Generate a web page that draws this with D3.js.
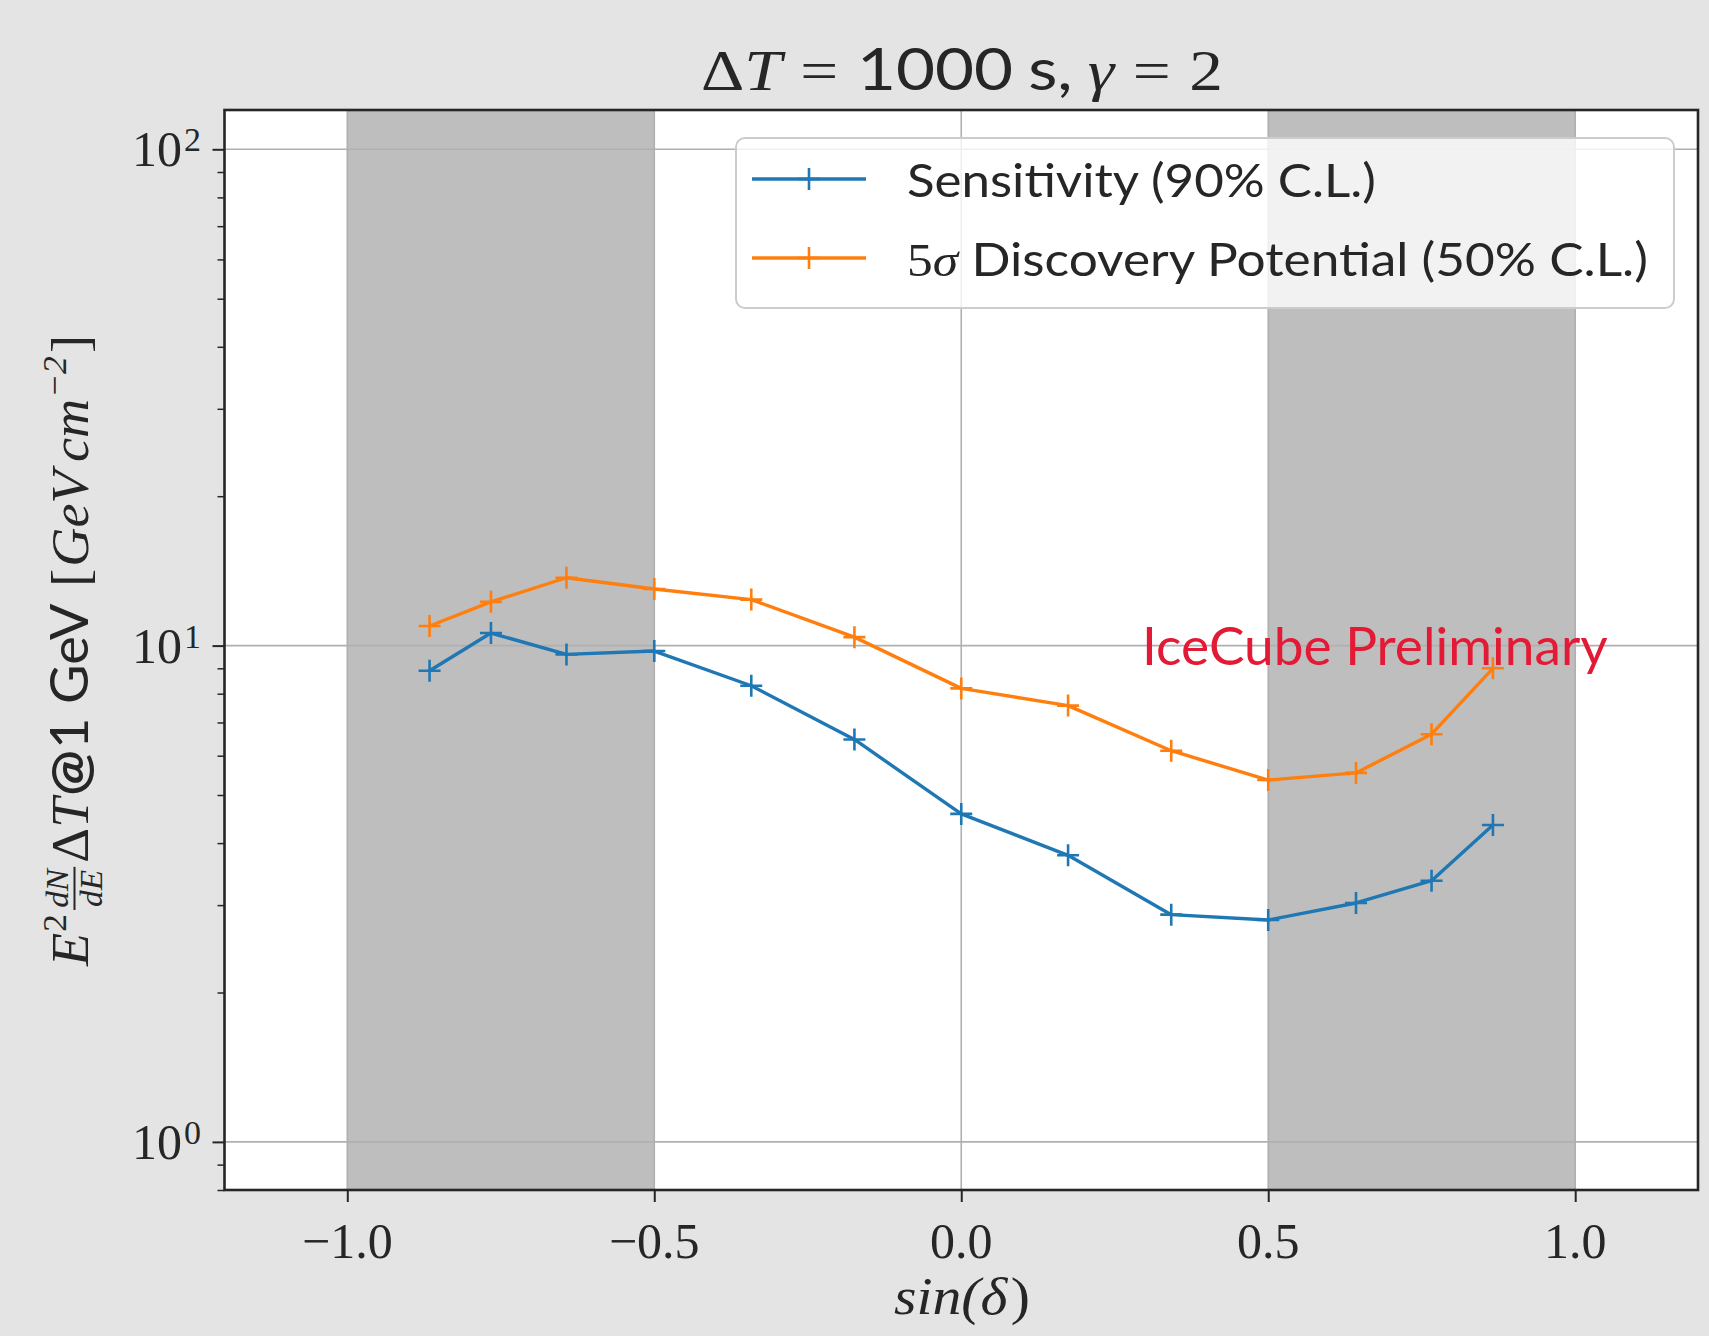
<!DOCTYPE html>
<html><head><meta charset="utf-8">
<script src="https://cdn.jsdelivr.net/npm/d3@7"></script>
<style>html,body{margin:0;padding:0;background:#e4e4e4;} svg{display:block}</style>
</head><body>
<svg id="chart" width="1709" height="1336"></svg>
<script>
// ---------- data ----------
const sinDec = [-0.866, -0.766, -0.643, -0.5, -0.342, -0.174, 0, 0.174, 0.342, 0.5, 0.643, 0.766, 0.866];
const sensitivity = [8.9, 10.6, 9.6, 9.75, 8.3, 6.47, 4.58, 3.78, 2.87, 2.8, 3.03, 3.36, 4.35];
const discovery = [10.95, 12.25, 13.7, 13.0, 12.38, 10.4, 8.2, 7.57, 6.14, 5.36, 5.54, 6.63, 9.0];
const xTicks = [-1.0, -0.5, 0.0, 0.5, 1.0];
const xTickLabels = ["\u22121.0", "\u22120.5", "0.0", "0.5", "1.0"];
const yTicks = [1, 10, 100];
const yTickExp = ["0", "1", "2"];
const shadedBands = [[-1.0, -0.5], [0.5, 1.0]];
const seriesNames = ["Sensitivity (90% C.L.)", "Discovery Potential (50% C.L.)"];
const seriesColors = ["#1f77b4", "#ff7f0e"];

// ---------- setup ----------
const W = 1709, H = 1336;
const plot = {left: 224.5, right: 1698, top: 110, bottom: 1190};
const SERIF = "'Liberation Serif','DejaVu Serif',serif";
const SANS = "Lato,'Liberation Sans',sans-serif";
const INK = "#262626";
const svg = d3.select("#chart");
svg.append("rect").attr("width", W).attr("height", H).attr("fill", "#e4e4e4");

const x = d3.scaleLinear().domain([-1.2, 1.2]).range([plot.left, plot.right]);
const y = d3.scaleLog().domain([0.8, 120]).range([plot.bottom, plot.top]);

function run(g, cur, str, o) {
  const t = g.append("text").attr("x", cur.x).attr("y", o.y || 0)
    .attr("font-family", o.f).attr("font-size", o.s)
    .attr("font-style", o.i ? "italic" : "normal")
    .attr("font-weight", o.b ? "bold" : "normal")
    .attr("fill", o.c || INK).text(str);
  cur.x += t.node().getComputedTextLength() + (o.gap || 0);
  return t;
}
function fitH(g, x0, width, baseY) {
  const bb = g.node().getBBox();
  const sx = width / bb.width;
  g.attr("transform", `translate(${x0 - bb.x * sx},${baseY}) scale(${sx},1)`);
}

// axes background
svg.append("rect").attr("x", plot.left).attr("y", plot.top)
  .attr("width", plot.right - plot.left).attr("height", plot.bottom - plot.top).attr("fill", "#ffffff");

// shaded bands
svg.selectAll(".band").data(shadedBands).join("rect").attr("class", "band")
  .attr("x", d => x(d[0])).attr("width", d => x(d[1]) - x(d[0]))
  .attr("y", plot.top).attr("height", plot.bottom - plot.top).attr("fill", "#bebebe");

// grid
svg.selectAll(".vgrid").data(xTicks).join("line").attr("class", "vgrid")
  .attr("x1", d => x(d)).attr("x2", d => x(d)).attr("y1", plot.top).attr("y2", plot.bottom)
  .attr("stroke", "#b0b0b0").attr("stroke-width", 1.6);
svg.selectAll(".hgrid").data(yTicks).join("line").attr("class", "hgrid")
  .attr("y1", d => y(d)).attr("y2", d => y(d)).attr("x1", plot.left).attr("x2", plot.right)
  .attr("stroke", "#b0b0b0").attr("stroke-width", 1.6);

// series lines
const series = [sensitivity, discovery];
const line = d3.line().x((d, i) => x(sinDec[i])).y(d => y(d));
series.forEach((vals, si) => {
  const col = seriesColors[si];
  svg.append("path").datum(vals).attr("d", line).attr("fill", "none")
    .attr("stroke", col).attr("stroke-width", 3.4).attr("stroke-linejoin", "round");
  svg.selectAll(".mk" + si).data(vals).join("path").attr("class", "mk" + si)
    .attr("d", (d, i) => {
      const cx = x(sinDec[i]), cy = y(d), r = 11;
      return `M${cx - r},${cy}H${cx + r}M${cx},${cy - r}V${cy + r}`;
    })
    .attr("stroke", col).attr("stroke-width", 2.6).attr("fill", "none");
});

// IceCube Preliminary
const ice = svg.append("g");
run(ice, {x: 0}, "IceCube Preliminary", {f: SANS, s: 52, c: "#e31a35"});
fitH(ice, 1142, 466, 665);

// legend
const lg = svg.append("g");
lg.append("rect").attr("x", 736).attr("y", 138).attr("width", 938).attr("height", 170)
  .attr("rx", 9).attr("fill", "#ffffff").attr("fill-opacity", 0.8)
  .attr("stroke", "#cccccc").attr("stroke-width", 2);
const legY = [179, 258];
seriesColors.forEach((col, i) => {
  lg.append("line").attr("x1", 752).attr("x2", 866).attr("y1", legY[i]).attr("y2", legY[i])
    .attr("stroke", col).attr("stroke-width", 3.4);
  lg.append("path").attr("d", `M798,${legY[i]}H820M809,${legY[i] - 11}V${legY[i] + 11}`)
    .attr("stroke", col).attr("stroke-width", 2.6);
});
const lt1 = lg.append("g");
run(lt1, {x: 0}, seriesNames[0], {f: SANS, s: 46});
fitH(lt1, 907, 469, 197);
const lt2 = lg.append("g");
const c2 = {x: 0};
run(lt2, c2, "5", {f: SERIF, s: 46});
run(lt2, c2, "\u03c3", {f: SERIF, s: 46, i: true, gap: 12});
run(lt2, c2, seriesNames[1], {f: SANS, s: 46});
fitH(lt2, 907, 741, 276);

// spines
svg.append("rect").attr("x", plot.left).attr("y", plot.top)
  .attr("width", plot.right - plot.left).attr("height", plot.bottom - plot.top)
  .attr("fill", "none").attr("stroke", INK).attr("stroke-width", 2.6);

// x axis ticks
const xAxis = svg.append("g").attr("transform", `translate(0,${plot.bottom})`)
  .call(d3.axisBottom(x).tickValues(xTicks).tickSize(12).tickFormat(""));
xAxis.select(".domain").remove();
xAxis.selectAll(".tick line").attr("stroke", INK).attr("stroke-width", 2);
svg.selectAll(".xlab").data(xTicks).join("text").attr("class", "xlab")
  .attr("x", d => x(d)).attr("y", 1258).attr("text-anchor", "middle")
  .attr("font-family", SERIF).attr("font-size", 50).attr("fill", INK)
  .text((d, i) => xTickLabels[i]);

// y axis ticks (major + minor)
const yAxis = svg.append("g").attr("transform", `translate(${plot.left},0)`)
  .call(d3.axisLeft(y).tickValues(yTicks).tickSize(12).tickFormat(""));
yAxis.select(".domain").remove();
yAxis.selectAll(".tick line").attr("stroke", INK).attr("stroke-width", 2);
const minor = y.ticks().filter(v => !yTicks.includes(v));
const yMinor = svg.append("g").attr("transform", `translate(${plot.left},0)`)
  .call(d3.axisLeft(y).tickValues(minor).tickSize(7).tickFormat(""));
yMinor.select(".domain").remove();
yMinor.selectAll(".tick line").attr("stroke", INK).attr("stroke-width", 1.5);

yTicks.forEach((v, i) => {
  const g = svg.append("g");
  const c = {x: 0};
  run(g, c, "10", {f: SERIF, s: 50, gap: 2});
  run(g, c, yTickExp[i], {f: SERIF, s: 34, y: -15});
  const bb = g.node().getBBox();
  g.attr("transform", `translate(${201 - (bb.x + bb.width)},${y(v) + 17})`);
});

// x label
const xl = svg.append("g");
const cx1 = {x: 0};
run(xl, cx1, "sin(", {f: SERIF, s: 52, i: true});
run(xl, cx1, "\u03b4", {f: SERIF, s: 52, i: true, gap: 3});
run(xl, cx1, ")", {f: SERIF, s: 52});
fitH(xl, 894, 136, 1314);

// title
const tg = svg.append("g");
const ct = {x: 0};
run(tg, ct, "\u0394", {f: SERIF, s: 58});
run(tg, ct, "T", {f: SERIF, s: 58, i: true, gap: 16});
run(tg, ct, "=", {f: SERIF, s: 58, gap: 16});
run(tg, ct, "1000", {f: SANS, s: 58, gap: 13});
run(tg, ct, "s,", {f: SANS, s: 58, gap: 13});
run(tg, ct, "\u03b3", {f: SERIF, s: 58, i: true, gap: 16});
run(tg, ct, "=", {f: SERIF, s: 58, gap: 16});
run(tg, ct, "2", {f: SERIF, s: 58});
fitH(tg, 701, 522, 90);

// y label
const yl = svg.append("g");
const cy = {x: 0};
const S = 52;
run(yl, cy, "E", {f: SERIF, s: S, i: true, gap: 1});
run(yl, cy, "2", {f: SERIF, s: 34, y: -22, gap: 4});
{
  const fx = cy.x;
  const n = yl.append("text").attr("font-family", SERIF).attr("font-size", 32).attr("font-style", "italic").attr("fill", INK).text("dN");
  const d = yl.append("text").attr("font-family", SERIF).attr("font-size", 32).attr("font-style", "italic").attr("fill", INK).text("dE");
  const wn = n.node().getComputedTextLength(), wd = d.node().getComputedTextLength();
  const w = Math.max(wn, wd) + 4;
  n.attr("x", fx + (w - wn) / 2).attr("y", -20);
  d.attr("x", fx + (w - wd) / 2).attr("y", 14);
  yl.append("line").attr("x1", fx).attr("x2", fx + w).attr("y1", -13).attr("y2", -13).attr("stroke", INK).attr("stroke-width", 2);
  cy.x = fx + w + 4;
}
run(yl, cy, "\u0394", {f: SERIF, s: S});
run(yl, cy, "T", {f: SERIF, s: S, i: true, gap: 2});
run(yl, cy, "@", {f: SANS, s: S, b: true, gap: 1});
run(yl, cy, "1", {f: SANS, s: S, gap: 13});
run(yl, cy, "GeV", {f: SANS, s: S, gap: 16});
run(yl, cy, "[", {f: SERIF, s: S, gap: 2});
run(yl, cy, "GeV", {f: SERIF, s: S, i: true, gap: 8});
run(yl, cy, "cm", {f: SERIF, s: S, i: true, gap: 1});
run(yl, cy, "\u22122", {f: SERIF, s: 34, i: true, y: -22, gap: 3});
run(yl, cy, "]", {f: SERIF, s: S});
{
  const bb = yl.node().getBBox();
  const sx = 632 / bb.width;
  yl.attr("transform", `translate(72,651) rotate(-90) scale(${sx},1) translate(${-(bb.x + bb.width / 2)},${-(bb.y + bb.height / 2)})`);
}
</script>
</body></html>
